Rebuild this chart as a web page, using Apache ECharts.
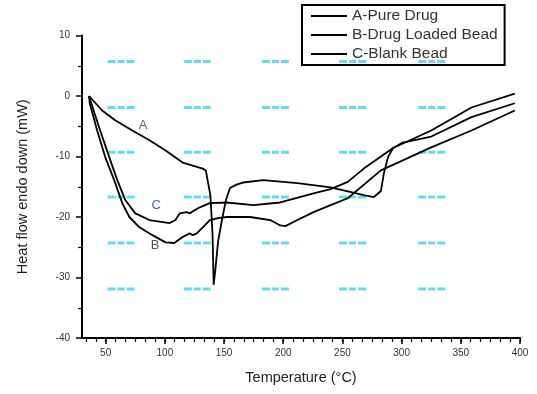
<!DOCTYPE html>
<html>
<head>
<meta charset="utf-8">
<script src="https://cdn.jsdelivr.net/npm/echarts@6/dist/echarts.min.js"></script>
<style>html,body{margin:0;padding:0;background:#fff;}#c{width:537px;height:394px;}</style>
</head>
<body>
<div id="c"></div>
<script>
// ---- data (Temperature °C, Heat flow mW) ----
const seriesNames = ['A-Pure Drug', 'B-Drug Loaded Bead', 'C-Blank Bead'];
const pureDrug = [[36,0],[47,-2.4],[58,-4.0],[72.5,-5.7],[87,-7.3],[100.6,-9.0],[115,-11.0],[132,-12.0],[134.6,-12.3],[138.5,-16.5],[140.3,-23],[141.2,-31.2],[142.5,-29],[145,-24],[148.2,-20.5],[151.6,-17.2],[155,-15.2],[161,-14.6],[166,-14.3],[183,-13.9],[212,-14.4],[240,-15.1],[251,-15.6],[268,-16.4],[276.6,-16.7],[282.5,-15.7],[285,-12.8],[288.5,-10.1],[292.8,-8.6],[301,-7.7],[325,-6.7],[359,-3.5],[395.6,-1.2]];
const loadedBead = [[36,0],[36.5,-1.2],[42.8,-5.7],[49.6,-10.1],[57.2,-13.9],[64,-17.7],[70,-20.0],[78.5,-21.7],[89.5,-23.0],[100.6,-24.2],[108,-24.3],[115,-23.3],[121,-22.7],[123.5,-23.0],[127,-22.7],[132,-21.7],[138,-20.5],[144.8,-20.2],[152.4,-20.0],[172,-20.0],[189,-20.5],[197.5,-21.4],[201.8,-21.5],[212,-20.5],[225.6,-19.2],[240,-18.05],[254.5,-16.9],[282.5,-12.3],[325,-8.5],[359,-5.7],[395.6,-2.4]];
const blankBead = [[36,0],[37,-0.7],[44.5,-5.2],[53,-10.1],[59.8,-13.9],[66.6,-17.2],[75,-19.4],[87,-20.5],[104,-21.0],[109,-20.5],[112.5,-19.4],[118.4,-19.2],[121,-19.4],[125,-18.9],[129.5,-18.4],[138,-17.7],[152.4,-17.6],[174.6,-18.05],[197.5,-17.6],[225.6,-16.1],[240,-15.4],[254.5,-14.2],[268,-12.0],[292.8,-8.6],[325,-5.7],[359,-1.9],[395.6,0.4]];
const curveLabels = [['A', 81.6, -4.85], ['C', 92.7, -18.05], ['B', 91.8, -24.65]];
const xTickLabels = [50, 100, 150, 200, 250, 300, 350, 400];
const yTickLabels = [-40, -30, -20, -10, 0, 10];
// faint cyan dash marks scattered over the plot of the reference
const markX = [63, 127.4, 193.4, 258.6, 325.5];
const markY = [5.7, -1.9, -9.3, -16.7, -24.3, -31.9];

const marks = [];
markX.forEach(x => markY.forEach(y => marks.push([x, y])));
const minorX = [];
for (let i = -2; i <= 42; i++) { const v = 50 + i * 50 / 6; if (v >= 30 && v <= 400.01) minorX.push(+v.toFixed(3)); }

const chart = echarts.init(document.getElementById('c'), null, {renderer: 'canvas'});
const font = 'Liberation Sans, Arial, sans-serif';
const lineStyle = {color: '#000', width: 1.8};
const labelColors = {A: '#3a3a3a', C: '#1d3c8a', B: '#2b1f4a'};
chart.setOption({
  animation: false,
  backgroundColor: '#fff',
  textStyle: {fontFamily: font},
  grid: {left: 82, right: 17, top: 35.5, bottom: 56, containLabel: false},
  legend: {
    orient: 'vertical', left: 302, top: 5,
    padding: [3, 7, 3, 9], itemGap: 3,
    borderColor: '#000', borderWidth: 2,
    icon: 'rect', itemWidth: 36, itemHeight: 2,
    itemStyle: {color: '#000'},
    textStyle: {fontSize: 15.5, color: '#333', fontFamily: font, lineHeight: 16},
    data: seriesNames
  },
  xAxis: [{
    type: 'value', min: 30, max: 400,
    name: 'Temperature (°C)', nameLocation: 'middle', nameGap: 32,
    nameTextStyle: {fontSize: 14.5, color: '#222'},
    axisLine: {onZero: false, lineStyle: {color: '#000', width: 2}},
    axisTick: {customValues: xTickLabels, length: 6, lineStyle: {color: '#000', width: 1.5}},
    axisLabel: {customValues: xTickLabels, fontSize: 10, color: '#333', margin: 10},
    splitLine: {show: false}
  }, {
    type: 'value', min: 30, max: 400, position: 'bottom',
    axisLine: {show: false, onZero: false},
    axisTick: {customValues: minorX, length: 4, lineStyle: {color: '#000', width: 1.2}},
    axisLabel: {show: false},
    splitLine: {show: false}
  }],
  yAxis: {
    type: 'value', min: -40, max: 10, interval: 10,
    name: 'Heat flow endo down (mW)', nameLocation: 'middle', nameGap: 52,
    nameTextStyle: {fontSize: 14.5, color: '#222'},
    axisLine: {show: true, onZero: false, lineStyle: {color: '#000', width: 2}},
    axisTick: {show: true, length: 6, lineStyle: {color: '#000', width: 1.5}},
    minorTick: {show: true, splitNumber: 2, length: 4, lineStyle: {color: '#000', width: 1.2}},
    axisLabel: {fontSize: 10, color: '#333', margin: 12},
    splitLine: {show: false}
  },
  series: [
    {type: 'scatter', silent: true, z: 1, data: marks,
     symbol: 'path://M0 0h8v3H0z M10 0h7v3h-7z M19 0h8v3h-8z', symbolSize: [27, 3],
     itemStyle: {color: '#4edbea', opacity: 0.9}},
    {name: seriesNames[0], type: 'line', data: pureDrug, symbol: 'none', lineStyle, itemStyle: {color: '#000'}, z: 3},
    {name: seriesNames[1], type: 'line', data: loadedBead, symbol: 'none', lineStyle, itemStyle: {color: '#000'}, z: 3},
    {name: seriesNames[2], type: 'line', data: blankBead, symbol: 'none', lineStyle, itemStyle: {color: '#000'}, z: 3},
    {type: 'scatter', silent: true, z: 4, symbolSize: 0,
     data: curveLabels.map(d => ({value: [d[1], d[2]], name: d[0], label: {color: labelColors[d[0]]}})),
     label: {show: true, position: 'inside', fontSize: 13, formatter: p => p.name},
     itemStyle: {color: 'transparent'}
    }
  ]
});
</script>
</body>
</html>
